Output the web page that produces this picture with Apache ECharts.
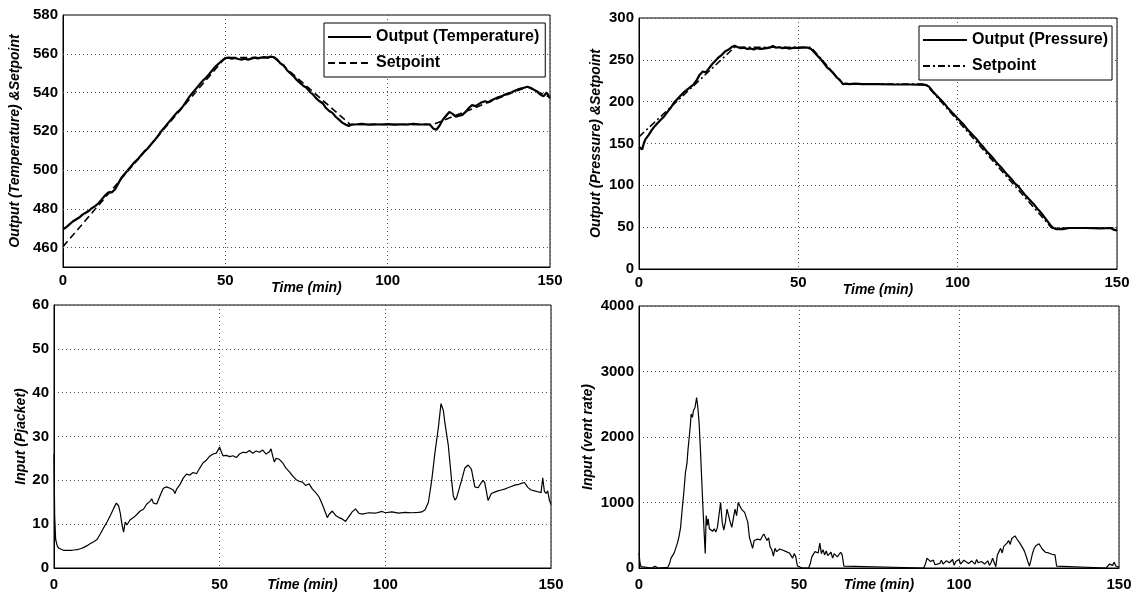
<!DOCTYPE html>
<html>
<head>
<meta charset="utf-8">
<script src="https://cdn.jsdelivr.net/npm/echarts@6/dist/echarts.min.js"></script>
<style>
  html, body { margin: 0; padding: 0; background: #fff; }
  #chart { width: 1140px; height: 594px; }
</style>
</head>
<body>
<div id="chart"></div>
<script>
// ---- Reactor temperature: measured output and setpoint (time in min) ----
const tempTime = [0,1,2,3,4,5,6,7,8,9,10,11,12,13,14,15,16,17,18,19,20,21,22,23,24,25,26,27,28,29,30,31,32,33,34,35,36,37,38,39,40,41,42,43,44,45,46,47,48,49,50,51,52,53,54,55,56,57,58,59,60,61,62,63,64,65,66,67,68,69,70,71,72,73,74,75,76,77,78,79,80,81,82,83,84,85,86,87,88,89,90,92,94,96,98,100,102,104,106,108,110,112,113,114,115,116,117,118,119,120,121,122,123,124,125,126,127,128,129,130,131,132,133,134,135,136,137,138,139,140,141,142,143,144,145,146,147,148,149,150];
const tempOutput = [469.5,470.5,472,473.5,474.5,475.5,477,478,479,480.5,481.5,483,485,487,488.5,488.5,490,493,496,498,500,502,504,505.5,507.5,509.5,511,513,515,517,519.5,521.5,523.5,525.5,527.5,529.5,531,533,535.5,538,540,542,544,546,547.5,549.5,551.5,553.5,555,556.5,557.8,558,557.5,557.8,557.3,557,557.5,557,557.5,558,557.6,558,558.3,558,558.5,558.2,557,555,554,551.5,550,548.5,546.5,545,543.5,542.5,540.5,539,537,535.5,534.5,532,530.5,529.5,527.5,526,524.5,523.5,522.8,523.5,523.5,523.8,523.4,523.6,523.5,523.7,523.4,523.6,523.5,523.8,523.5,523.6,523.5,521.5,520.8,523,526,528,530,529,527.5,528,528.5,530,532,533.5,533,534,535,535.5,535,536,536.8,537.5,538,538.8,539.5,540,540.8,541.5,542,542.5,543,542.5,541.5,540.5,539,538,540,537];
const tempSetTime = [0,10,50,65,88.5,114,143,150];
const tempSetpoint = [460.5,480,558,558,523.5,523.5,543,537.5];

// ---- Reactor pressure: measured output and setpoint ----
const pressTime = [0,0.5,1,1.5,2,3,4,5,6,7,8,9,10,11,12,13,14,15,16,17,18,19,20,21,22,23,24,25,26,27,28,29,30,31,32,33,34,35,36,37,38,39,40,41,42,43,44,45,46,47,48,49,50,51,52,53,54,55,56,57,58,59,60,61,62,63,64,65,66,68,70,75,80,85,90,91,92,93,94,95,96,97,98,99,100,101,102,103,104,105,106,107,108,109,110,111,112,113,114,115,116,117,118,119,120,121,122,123,124,125,126,127,128,129,130,131,132,133,135,140,145,148,149,150];
const pressOutput = [146,148,143,150,155,160,166,171,175,179,183,188,193,199,203,207,211,214,217,220,225,232,236,235,240,245,249,253,256,260,262,265,267,265,264,264.5,263,263.5,262.5,264,263,263.5,264,264.5,266.5,264.5,265,264,264.5,263.5,264,264.5,264,264.5,264.5,264.5,263,259,255,251,246,241,238,234,229,226,221,221.5,221,221.5,221,221,220.5,220.5,220,218,213,209,205,201,197,192,188,184,180,176,172,167,163,159,155,150,146,141,137,133,128,124,120,115,111,107,102,99,94,89,85,81,77,72,68,63,58,53,49,47.5,48,47.5,49,49,48.5,49,47,46];
const pressSetTime = [0,30,54,64,90,129.5,150];
const pressSetpoint = [158,265,265,221,221,49,49];

// ---- Manipulated input: jacket pressure ----
const jacketTime = [0,0.2,0.5,1,1.5,2,3,4,5,6,7,8,9,10,11,12,13,14,15,16,17,18,18.8,19.5,20,20.5,21,21.5,22,23,23.5,24,25,26,26.5,27,28,29,29.5,30,31,32,33,34,35,36,36.5,37,38,39,40,41,42,43,44,45,46,47,48,49,50,50.5,51,52,53,54,55,56,57,58,59,60,61,62,63,64,65,65.5,66,66.5,67,68,69,70,71,72,73,74,75,76,77,78,79,80,81,82,82.5,83,84,85,86,87,88,88.5,89,90,91,92,93,95,97,99,100,102,104,106,108,110,111,112,113,114,115,116,116.8,117.5,118,119,119.5,120,120.5,121,121.5,122,123,124,125,126,126.5,127,128,129,129.5,130,130.5,131,131.5,132,133,134,135,136,137,138,139,140,141,142,142.5,143,144,145,146,147,147.5,148,148.5,149,149.5,150];
const jacketInput = [26,12,6.5,5,4.5,4.2,4.0,4.0,4.0,4.1,4.2,4.4,4.7,5.1,5.6,6.0,6.5,7.8,9.2,10.5,12,13.6,14.8,14.2,12.5,10,8.2,10.5,9.8,11,10.7,11.5,12.2,13,12.6,13.4,14.6,15.2,15.8,14.8,14.6,16.5,18.2,18.5,18.2,17.8,17,18,19,20.5,21.4,21.2,21.8,21.5,22.8,24,24.6,25.5,26,26.2,27.6,26.5,25.6,25.7,25.4,25.6,25.2,26,26.4,26.3,26.8,26.2,26.7,26.4,26.9,26,26.5,27.2,25.6,24.2,25,24.8,24,22.8,22,21,20.2,19.8,19.6,18.8,19.2,18,17.2,16.2,14.5,12.5,11.5,12.2,13,12,11.5,11.2,10.6,11.2,11,12.8,13.5,12.5,12.3,12.6,12.5,12.9,12.6,12.8,12.5,12.7,12.6,12.7,12.8,13.3,15,20,26.5,32,37.5,36,33,28,24,20,16.5,15.5,16,16.2,20,22.8,23.5,22.5,20.5,18.5,18.3,19.5,20,19.5,17.5,15.4,15.8,17,17.3,17.6,17.8,18,18.3,18.6,18.9,19,19.3,19.5,19.3,18.4,17.8,17.6,17.4,17.2,20.6,17.5,17,17.6,15.5,14.5];

// ---- Manipulated input: vent rate ----
const ventTime = [0,0.3,0.6,1,4,5,6,9,9.5,10,10.5,11,11.5,12,12.5,13,13.5,14,14.5,15,15.3,15.7,16,16.3,16.7,17,17.5,18,18.4,18.8,19.2,19.6,20,20.4,20.7,21,21.3,21.6,22,22.5,23,23.5,24,24.5,25,25.5,26,26.5,27,27.5,28,28.5,29,29.5,30,30.5,31,31.5,32,32.5,33,33.5,34,34.5,35,35.5,36,36.5,37,38,38.5,39,39.5,40,40.5,41,41.5,42,42.5,43,44,45,46,47,48,48.5,49,49.5,50,51,53,53.5,54,55,56,56.5,57,57.5,58,58.5,59,60,60.5,61,62,63,63.5,64,64.5,89,89.5,90,90.5,91,92,92.5,93,94,94.5,95,96,97,98,98.5,99,100,100.5,101,101.5,102,103,104,105,105.5,106,107,108,109,109.5,110,110.5,111,111.5,112,112.5,113,113.5,114,114.5,115,115.5,116,116.5,117,117.5,118,118.5,119,119.5,120,120.5,121,121.5,122,122.5,123,123.5,124,124.5,125,125.5,126,126.5,127,127.5,128,129,129.5,130,130.5,131,146,146.5,147,147.5,148,148.5,149,150];
const ventInput = [230,80,20,0,0,25,0,10,60,150,120,230,260,380,480,620,900,1150,1450,1600,1800,2000,2150,2350,2300,2400,2450,2600,2450,2200,1800,1350,900,500,220,800,650,750,600,620,560,600,550,620,600,1000,700,580,700,900,920,700,620,650,900,800,1000,950,900,920,850,820,700,470,480,300,420,400,440,430,480,520,500,420,460,320,280,180,300,250,290,270,250,230,150,220,170,30,10,0,0,60,170,250,230,380,220,280,200,260,190,240,150,220,170,240,200,30,0,0,60,150,140,100,120,50,80,70,120,60,110,80,130,40,100,130,60,30,120,140,70,110,60,130,80,100,60,110,40,80,150,120,20,200,250,300,230,330,310,380,420,360,450,480,490,450,420,380,400,300,250,180,100,30,120,230,300,340,330,370,350,290,280,240,260,230,210,240,200,30,0,0,20,60,80,40,90,30,10];

// ---- Axis ticks ----
const timeTicks = [0, 50, 100, 150];
const tempTicks = [460, 480, 500, 520, 540, 560, 580];

const pairs = (xs, ys) => xs.map((x, i) => [x, ys[i]]);

const FONT = 'Liberation Sans';
const tickLabel = { color: '#000', fontFamily: FONT, fontWeight: 'bold', fontSize: 15 };
const gridDots = { show: true, lineStyle: { color: '#555', width: 1, type: [1, 3] } };
const frameLine = { show: true, onZero: false, lineStyle: { color: '#000', width: 1 } };
const nameStyle = { color: '#000', fontFamily: FONT, fontWeight: 'bold', fontStyle: 'italic', fontSize: 14 };

function timeAxis(gridIndex, gap, margin) {
  return {
    type: 'value', gridIndex, min: 0, max: 150, interval: 50,
    name: 'Time (min)', nameLocation: 'middle', nameGap: gap, nameMoveOverlap: false,
    nameTextStyle: Object.assign({}, nameStyle, { fontSize: 14 }),
    axisLine: frameLine, axisTick: { show: false },
    axisLabel: Object.assign({ margin, formatter: v => (timeTicks.indexOf(v) >= 0 ? String(v) : '') }, tickLabel),
    splitLine: gridDots
  };
}
function valueAxis(gridIndex, min, max, interval, name, gap, extra) {
  return Object.assign({
    type: 'value', gridIndex, min, max, interval,
    name, nameLocation: 'middle', nameGap: gap, nameMoveOverlap: false, nameTextStyle: nameStyle,
    axisLine: frameLine, axisTick: { show: false },
    axisLabel: Object.assign({ margin: 5, formatter: v => String(v) }, tickLabel),
    splitLine: gridDots
  }, extra || {});
}

const chart = echarts.init(document.getElementById('chart'), null, { renderer: 'canvas' });

const legendText = { color: '#000', fontFamily: FONT, fontWeight: 'bold', fontSize: 16 };
const hiddenSymbol = { color: 'rgba(0,0,0,0)', borderColor: 'rgba(0,0,0,0)', borderWidth: 0, opacity: 0 };
const gridBase = { show: true, borderColor: '#000', borderWidth: 1, backgroundColor: '#fff', outerBoundsMode: 'none', containLabel: false };

chart.setOption({
  animation: false,
  backgroundColor: '#fff',
  grid: [
    Object.assign({ left: 63,  top: 15,  width: 487, height: 252 }, gridBase),
    Object.assign({ left: 639, top: 18,  width: 478, height: 251 }, gridBase),
    Object.assign({ left: 54,  top: 305, width: 497, height: 263 }, gridBase),
    Object.assign({ left: 639, top: 306, width: 480, height: 262 }, gridBase)
  ],
  xAxis: [
    timeAxis(0, 14, 6),
    timeAxis(1, 14, 6),
    timeAxis(2, 10, 9),
    timeAxis(3, 10, 9)
  ],
  yAxis: [
    // 450..580 range; labels every 20 starting at 460, grid lines drawn by markLine
    valueAxis(0, 450, 580, 10, 'Output (Temperature) &Setpoint', 41, {
      axisLabel: Object.assign({ margin: 5, formatter: v => (tempTicks.indexOf(v) >= 0 ? String(v) : '') }, tickLabel),
      splitLine: { show: false }
    }),
    valueAxis(1, 0, 300, 50, 'Output (Pressure) &Setpoint', 36),
    valueAxis(2, 0, 60, 10, 'Input (Pjacket)', 26),
    valueAxis(3, 0, 4000, 1000, 'Input (vent rate)', 44)
  ],
  legend: [
    {
      left: 324, top: 23, orient: 'vertical',
      data: ['Output (Temperature)', 'Setpoint (Temperature)'],
      formatter: n => (n.indexOf('Setpoint') === 0 ? 'Setpoint' : n),
      backgroundColor: '#fff', borderColor: '#000', borderWidth: 1, borderRadius: 0,
      padding: [6, 6, 6, 3], itemWidth: 43, itemHeight: 14, itemGap: 10,
      itemStyle: hiddenSymbol,
      textStyle: legendText, selectedMode: false
    },
    {
      left: 919, top: 26, orient: 'vertical',
      data: ['Output (Pressure)', 'Setpoint (Pressure)'],
      formatter: n => (n.indexOf('Setpoint') === 0 ? 'Setpoint' : n),
      backgroundColor: '#fff', borderColor: '#000', borderWidth: 1, borderRadius: 0,
      padding: [6, 4, 6, 3], itemWidth: 44, itemHeight: 14, itemGap: 10,
      itemStyle: hiddenSymbol,
      textStyle: legendText, selectedMode: false
    }
  ],
  series: [
    {
      name: 'Setpoint (Temperature)', type: 'line', xAxisIndex: 0, yAxisIndex: 0,
      data: pairs(tempSetTime, tempSetpoint), showSymbol: false, symbol: 'none',
      itemStyle: { color: '#000' },
      lineStyle: { color: '#000', width: 1.6, type: [7, 4] }, z: 3,
      markLine: {
        silent: true, symbol: ['none', 'none'], label: { show: false },
        lineStyle: { color: '#555', width: 1, type: [1, 3] },
        data: tempTicks.slice(0, -1).map(v => ({ yAxis: v }))
      }
    },
    {
      name: 'Output (Temperature)', type: 'line', xAxisIndex: 0, yAxisIndex: 0,
      data: pairs(tempTime, tempOutput), showSymbol: false, symbol: 'none',
      itemStyle: { color: '#000' },
      lineStyle: { color: '#000', width: 2.2 }, z: 4
    },
    {
      name: 'Setpoint (Pressure)', type: 'line', xAxisIndex: 1, yAxisIndex: 1,
      data: pairs(pressSetTime, pressSetpoint), showSymbol: false, symbol: 'none',
      itemStyle: { color: '#000' },
      lineStyle: { color: '#000', width: 1.6, type: [7, 3, 2, 3] }, z: 3
    },
    {
      name: 'Output (Pressure)', type: 'line', xAxisIndex: 1, yAxisIndex: 1,
      data: pairs(pressTime, pressOutput), showSymbol: false, symbol: 'none',
      itemStyle: { color: '#000' },
      lineStyle: { color: '#000', width: 2.2 }, z: 4
    },
    {
      name: 'Input (Pjacket)', type: 'line', xAxisIndex: 2, yAxisIndex: 2,
      data: pairs(jacketTime, jacketInput), showSymbol: false, symbol: 'none',
      itemStyle: { color: '#000' },
      lineStyle: { color: '#000', width: 1.2 }
    },
    {
      name: 'Input (vent rate)', type: 'line', xAxisIndex: 3, yAxisIndex: 3,
      data: pairs(ventTime, ventInput), showSymbol: false, symbol: 'none',
      itemStyle: { color: '#000' },
      lineStyle: { color: '#000', width: 1.2 }
    }
  ]
});
</script>
</body>
</html>
